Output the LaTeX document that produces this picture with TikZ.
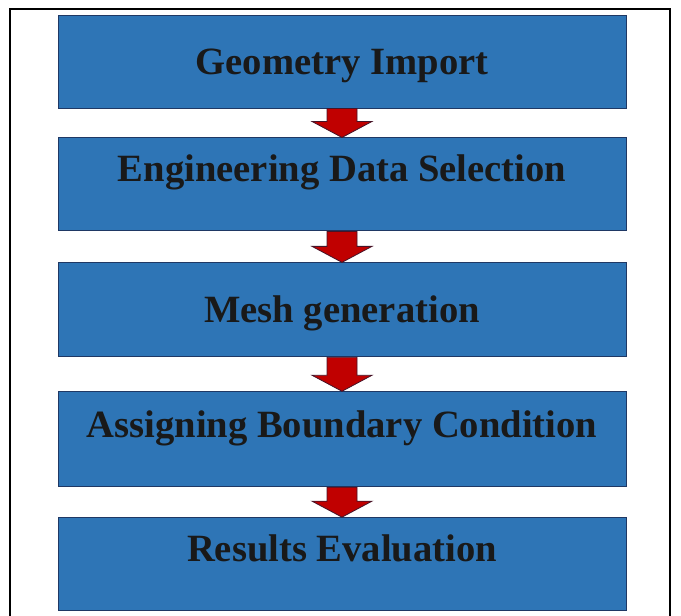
\documentclass[tikz,border=0pt]{standalone}
\usepackage{fontspec}
\setmainfont{Liberation Serif}
\usetikzlibrary{positioning,calc}
\definecolor{boxblue}{RGB}{46,117,182}
\definecolor{boxedge}{RGB}{31,56,100}
\definecolor{arrowred}{RGB}{192,0,0}
\definecolor{arrowedge}{RGB}{70,20,40}
\tikzset{
    stepbox/.style={rectangle,draw=boxedge,line width=0.9pt,fill=boxblue,
        minimum width=568pt,inner sep=0pt,text=black!90,
        font=\fontsize{38.6}{46}\selectfont\bfseries},
    flowarrow/.style={fill=arrowred,draw=arrowedge,line width=0.8pt,line join=miter}
}
\begin{document}
\begin{tikzpicture}[x=1pt,y=-1pt]
    \useasboundingbox (0,0) rectangle (681,616);
    % outer frame, open at the bottom
    \draw[line width=2pt] (10,616) -- (10,9) -- (670,9) -- (670,616);
    % process steps
    \node[stepbox,text height=59pt,text depth=34pt] (geom) at (342,61.5) {Geometry Import};
    \node[stepbox,text height=44pt,text depth=49pt,below=29pt of geom] (engdata) {Engineering Data Selection};
    \node[stepbox,text height=60pt,text depth=34pt,below=31pt of engdata] (mesh) {Mesh generation};
    \node[stepbox,text height=46pt,text depth=49pt,below=34pt of mesh] (bound) {Assigning Boundary Condition};
    \node[stepbox,text height=44pt,text depth=49pt,below=30pt of bound] (results) {Results Evaluation};
    % block arrows between steps
    \foreach \a/\b in {geom/engdata,engdata/mesh,mesh/bound,bound/results}
        \draw[flowarrow] ($(\a.south)+(-15pt,0pt)$) -- ($(\b.north)+(-15pt,16pt)$)
            -- ++(-15pt,0pt) -- (\b.north) -- ++(30pt,16pt) -- ++(-15pt,0pt)
            -- ($(\a.south)+(15pt,0pt)$) -- cycle;
\end{tikzpicture}
\end{document}
